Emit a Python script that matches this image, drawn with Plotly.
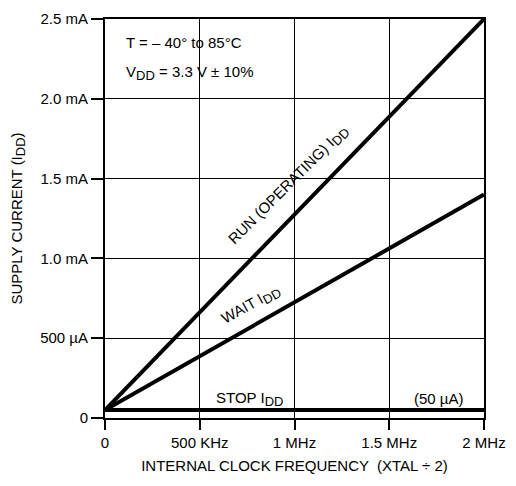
import plotly.graph_objects as go

# frequency in MHz, current in mA
freq = [0, 2]
run_idd = [0.05, 2.5]
wait_idd = [0.05, 1.4]
stop_idd = [0.05, 0.05]

x_ticks = [0, 0.5, 1, 1.5, 2]
x_labels = ["0", "500 KHz", "1 MHz", "1.5 MHz", "2 MHz"]
y_ticks = [0, 0.5, 1.0, 1.5, 2.0, 2.5]
y_labels = ["0", "500 µA", "1.0 mA", "1.5 mA", "2.0 mA", "2.5 mA"]

FONT = "Liberation Sans, Arial, sans-serif"
SUB = "<sub><span style='font-size:13px'>DD</span></sub>"

fig = go.Figure()

for ys in [run_idd, wait_idd, stop_idd]:
    fig.add_trace(go.Scatter(
        x=freq,
        y=ys,
        mode="lines",
        line=dict(color="black", width=4),
        showlegend=False,
        hoverinfo="skip"
    ))

axis_common = dict(
    showline=True,
    linecolor="black",
    linewidth=2,
    mirror=True,
    showgrid=True,
    gridcolor="black",
    gridwidth=1.2,
    zeroline=False,
    ticks="outside",
    tickcolor="black",
    tickwidth=2,
    automargin=False,
    tickfont=dict(family=FONT, size=15, color="black"),
)

fig.update_xaxes(
    range=[0, 2],
    tickvals=x_ticks,
    ticktext=x_labels,
    ticklen=10,
    title=dict(
        text="INTERNAL CLOCK FREQUENCY  (XTAL ÷ 2)",
        font=dict(family=FONT, size=15, color="black"),
        standoff=10
    ),
    **axis_common
)

fig.update_yaxes(
    range=[0, 2.5],
    tickvals=y_ticks,
    ticktext=y_labels,
    ticklen=12,
    title=dict(
        text="SUPPLY CURRENT (I" + SUB + ")",
        font=dict(family=FONT, size=15, color="black"),
        standoff=14
    ),
    **axis_common
)

annotations = [
    dict(x=0.1, y=2.35, text="T = – 40° to 85°C", angle=0, anchor="left"),
    dict(x=0.1, y=2.16, text="V" + SUB + " = 3.3 V ± 10%", angle=0, anchor="left"),
    dict(x=0.97, y=1.46, text="RUN (OPERATING) I" + SUB, angle=-45, anchor="center"),
    dict(x=0.77, y=0.71, text="WAIT I" + SUB, angle=-29, anchor="center"),
    dict(x=0.76, y=0.12, text="STOP I" + SUB, angle=0, anchor="center"),
    dict(x=1.76, y=0.12, text="(50 µA)", angle=0, anchor="center"),
]

for a in annotations:
    fig.add_annotation(
        x=a["x"],
        y=a["y"],
        text=a["text"],
        xanchor=a["anchor"],
        yanchor="middle",
        textangle=a["angle"],
        showarrow=False,
        font=dict(family=FONT, size=15, color="black")
    )

# the page body adds an 8px offset, so margins are shifted to compensate
fig.update_layout(
    width=516,
    height=486,
    margin=dict(l=97, r=40, t=11, b=76),
    paper_bgcolor="white",
    plot_bgcolor="white",
    font=dict(family=FONT, size=15, color="black"),
)

fig.write_html("out.html")
